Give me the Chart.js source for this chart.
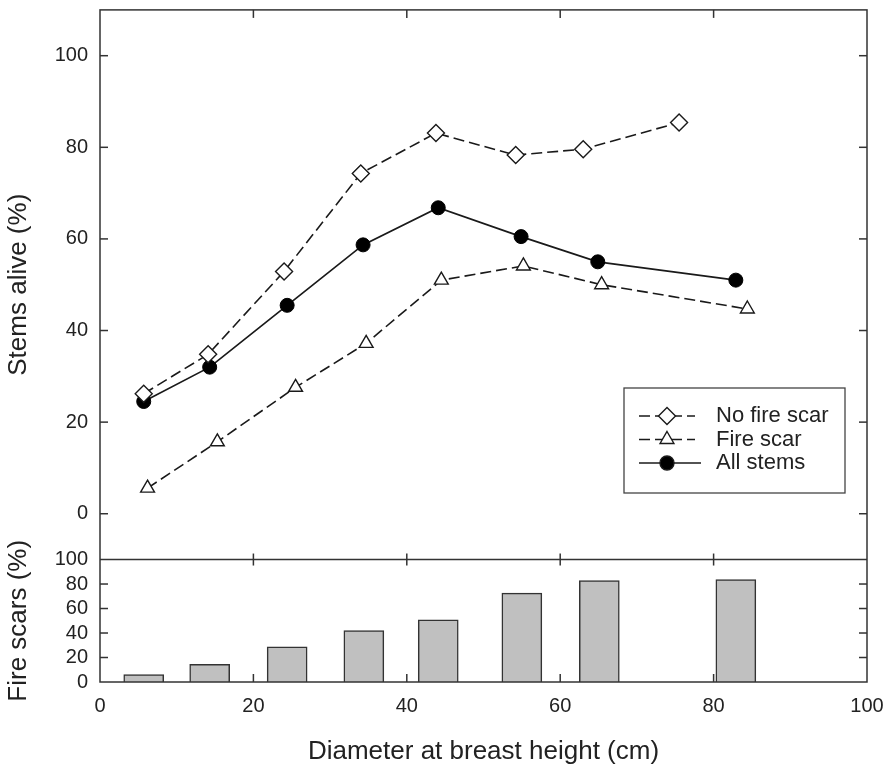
<!DOCTYPE html>
<html lang="en">
  <head>
    <meta charset="utf-8" />
    <title>Stems alive and fire scars by diameter</title>
    <style>
      body { margin: 0; background: #fff; }
      .chart-wrapper { width: 889px; height: 766px; }
    </style>
  </head>
  <body>
    <div class="chart-wrapper">
      <canvas id="dbh-chart" width="889" height="766"></canvas>
    </div>

    <script src="https://cdn.jsdelivr.net/npm/chart.js@4.4.1/dist/chart.umd.min.js"></script>
    <script>
      // data
      const noScarX = [5.7, 14.1, 24.0, 34.0, 43.8, 54.2, 63.0, 75.5];
      const noScarY = [26.2, 34.8, 52.9, 74.3, 83.1, 78.3, 79.6, 85.4];
      const scarX = [6.2, 15.3, 25.5, 34.7, 44.5, 55.2, 65.4, 84.4];
      const scarY = [5.6, 15.7, 27.6, 37.2, 51.0, 54.1, 50.0, 44.7];
      const allX = [5.7, 14.3, 24.4, 34.3, 44.1, 54.9, 64.9, 82.9];
      const allY = [24.5, 32.0, 45.5, 58.7, 66.8, 60.5, 55.0, 51.0];
      const barX = [5.7, 14.3, 24.4, 34.4, 44.1, 55.0, 65.1, 82.9];
      const barY = [6.0, 14.4, 28.7, 42.0, 50.7, 72.6, 82.9, 83.7];

      const xTicks = [0, 20, 40, 60, 80, 100];
      const aliveTicks = [0, 20, 40, 60, 80, 100];
      const scarTicks = [0, 20, 40, 60, 80, 100];
      const seriesNames = ["No fire scar", "Fire scar", "All stems"];

      const ink = "#1a1a1a";
      const dash = [11, 5];

      const pts = (xs, ys) => xs.map((x, i) => ({ x: x, y: ys[i] }));

      Chart.defaults.font.family = "'Liberation Sans', Arial, sans-serif";
      Chart.defaults.color = "#222";

      function line(ctx, x1, y1, x2, y2) {
        ctx.beginPath();
        ctx.moveTo(x1, y1);
        ctx.lineTo(x2, y2);
        ctx.stroke();
      }

      function noPad(s) {
        s.paddingLeft = 0;
        s.paddingRight = 0;
        s.paddingTop = 0;
        s.paddingBottom = 0;
      }

      // frame with inward ticks + legend box, like the original plot
      const framePlugin = {
        id: "frame",
        afterDraw(chart) {
          const { ctx, chartArea: a, scales } = chart;
          const sep = scales.y2.top;
          const tl = 8;
          ctx.save();
          ctx.strokeStyle = "#333";
          ctx.lineWidth = 1.5;
          ctx.strokeRect(a.left, a.top, a.right - a.left, a.bottom - a.top);
          line(ctx, a.left, sep, a.right, sep);

          xTicks.slice(1, -1).forEach((v) => {
            const px = scales.x.getPixelForValue(v);
            line(ctx, px, a.top, px, a.top + tl);
            line(ctx, px, sep - 6, px, sep + 6);
            line(ctx, px, a.bottom, px, a.bottom - tl);
          });
          aliveTicks.forEach((v) => {
            const py = scales.y.getPixelForValue(v);
            line(ctx, a.left, py, a.left + tl, py);
            line(ctx, a.right, py, a.right - tl, py);
          });
          scarTicks.slice(1, -1).forEach((v) => {
            const py = scales.y2.getPixelForValue(v);
            line(ctx, a.left, py, a.left + tl, py);
            line(ctx, a.right, py, a.right - tl, py);
          });

          // legend
          const bx = 624, by = 388, bw = 221, bh = 105;
          ctx.fillStyle = "#fff";
          ctx.fillRect(bx, by, bw, bh);
          ctx.lineWidth = 1.3;
          ctx.strokeStyle = "#444";
          ctx.strokeRect(bx, by, bw, bh);
          const rows = [416, 439.5, 463];
          chart.data.datasets.slice(0, 3).forEach((ds, i) => {
            const y = rows[i];
            ctx.save();
            ctx.strokeStyle = ink;
            ctx.lineWidth = 1.5;
            ctx.setLineDash(ds.borderDash || []);
            line(ctx, 639, y, i === 2 ? 701 : 695, y);
            ctx.restore();
            ctx.save();
            ctx.fillStyle = ds.pointBackgroundColor;
            ctx.strokeStyle = ink;
            ctx.lineWidth = 1.4;
            Chart.helpers.drawPoint(ctx, {
              pointStyle: ds.pointStyle,
              radius: ds.pointRadius,
              borderWidth: 1.4,
              rotation: 0,
            }, 667, y);
            ctx.restore();
            ctx.fillStyle = "#222";
            ctx.font = "22px 'Liberation Sans', Arial, sans-serif";
            ctx.textBaseline = "middle";
            ctx.fillText(ds.label, 716, y);
          });
          ctx.restore();
        },
      };

      const context = document.getElementById("dbh-chart").getContext("2d");
      const myChart = new Chart(context, {
        type: "line",
        data: {
          datasets: [
            {
              label: seriesNames[0],
              data: pts(noScarX, noScarY),
              yAxisID: "y",
              borderColor: ink,
              borderWidth: 1.6,
              borderDash: dash,
              pointStyle: "rectRot",
              pointRadius: 8.5,
              pointBorderWidth: 1.4,
              pointBackgroundColor: "#fff",
              pointBorderColor: ink,
            },
            {
              label: seriesNames[1],
              data: pts(scarX, scarY),
              yAxisID: "y",
              borderColor: ink,
              borderWidth: 1.6,
              borderDash: dash,
              pointStyle: "triangle",
              pointRadius: 8,
              pointBorderWidth: 1.4,
              pointBackgroundColor: "#fff",
              pointBorderColor: ink,
            },
            {
              label: seriesNames[2],
              data: pts(allX, allY),
              yAxisID: "y",
              borderColor: ink,
              borderWidth: 1.7,
              pointStyle: "circle",
              pointRadius: 7,
              pointBorderWidth: 1,
              pointBackgroundColor: "#000",
              pointBorderColor: "#000",
            },
            {
              type: "bar",
              label: "Fire scars",
              data: pts(barX, barY),
              yAxisID: "y2",
              backgroundColor: "#c0c0c0",
              borderColor: "#333",
              borderWidth: 1.5,
              barThickness: 40,
            },
          ],
        },
        options: {
          responsive: false,
          animation: false,
          events: [],
          layout: { padding: { top: 7, right: 22, left: 0, bottom: 0 } },
          plugins: { legend: { display: false }, tooltip: { enabled: false } },
          elements: { line: { tension: 0 } },
          scales: {
            x: {
              type: "linear",
              min: 0,
              max: 100,
              offset: false,
              afterBuildTicks: (s) => { s.ticks = xTicks.map((v) => ({ value: v })); },
              afterFit: (s) => { s.height = 84; noPad(s); },
              grid: { display: false },
              border: { display: false },
              ticks: { font: { size: 20 }, padding: 4, maxRotation: 0, autoSkip: false },
              title: {
                display: true,
                text: "Diameter at breast height (cm)",
                font: { size: 26, lineHeight: 1.1 },
                padding: { top: 0, bottom: 0 },
              },
            },
            y2: {
              type: "linear",
              position: "left",
              stack: "panels",
              stackWeight: 123,
              offset: false,
              min: 0,
              max: 100,
              afterBuildTicks: (s) => { s.ticks = scarTicks.map((v) => ({ value: v })); },
              afterFit: (s) => { s.width = 100; noPad(s); },
              grid: { display: false },
              border: { display: false },
              ticks: { font: { size: 20 }, padding: 4, autoSkip: false },
              title: {
                display: true,
                text: "Fire scars (%)",
                font: { size: 26 },
                padding: { top: 3, bottom: 0 },
              },
            },
            y: {
              type: "linear",
              position: "left",
              stack: "panels",
              stackWeight: 552,
              min: -10,
              max: 110,
              afterBuildTicks: (s) => { s.ticks = aliveTicks.map((v) => ({ value: v })); },
              afterFit: (s) => { s.width = 100; noPad(s); },
              grid: { display: false },
              border: { display: false },
              ticks: { font: { size: 20 }, padding: 4, autoSkip: false },
              title: {
                display: true,
                text: "Stems alive (%)",
                font: { size: 26 },
                padding: { top: 3, bottom: 0 },
              },
            },
          },
        },
        plugins: [framePlugin],
      });
    </script>
  </body>
</html>
